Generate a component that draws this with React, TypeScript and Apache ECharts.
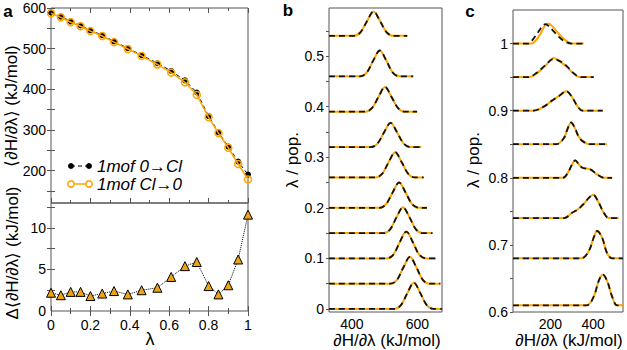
import React, { useEffect, useRef } from 'react';
import * as echarts from 'echarts';

// ---------- Panel a data ----------
const lambdas = [0, 0.05, 0.1, 0.15, 0.2, 0.26, 0.32, 0.39, 0.46, 0.54, 0.61, 0.68, 0.74, 0.8, 0.85, 0.9, 0.95, 1];
const dHdlForward = [589, 579, 567, 557, 545, 533, 518, 501, 484, 464, 445, 422, 392, 334, 294, 259, 222, 190];
const dHdlBackward = [587, 577, 565, 555, 543, 531, 516, 499, 482, 461, 441, 417, 386, 331, 292, 256, 216, 178];
const dHdlDiff = [2.2, 1.9, 2.3, 2.3, 1.8, 2.1, 2.4, 2.0, 2.5, 2.8, 4.1, 5.4, 5.9, 3.0, 2.0, 3.1, 6.2, 11.6];

const aTopYLabels = [200, 300, 400, 500, 600];
const aTopYTicks = [150, 200, 250, 300, 350, 400, 450, 500, 550, 600];
const aBotYLabels = [0, 5, 10];
const aBotYTicks = [2.5, 5, 7.5, 10, 12.5];

// ---------- Panel b data: [x, height above baseline λ] ----------
const bLambdas = [0, 0.05, 0.1, 0.15, 0.2, 0.26, 0.32, 0.39, 0.46, 0.54];
const bCurves: number[][][] = [
  [[330, 0], [529, 0], [549, 0.007], [569, 0.031], [589, 0.052], [609, 0.031], [629, 0.007], [649, 0], [675, 0]],
  [[330, 0], [517, 0], [537, 0.007], [557, 0.032], [577, 0.053], [597, 0.032], [617, 0.007], [637, 0], [670, 0]],
  [[330, 0], [506, 0], [526, 0.007], [546, 0.032], [566, 0.053], [586, 0.032], [606, 0.007], [626, 0], [655, 0]],
  [[330, 0], [496, 0], [516, 0.007], [536, 0.031], [556, 0.051], [576, 0.031], [596, 0.007], [616, 0], [646, 0]],
  [[330, 0], [484, 0], [504, 0.007], [524, 0.03], [544, 0.05], [564, 0.03], [584, 0.007], [604, 0], [629, 0]],
  [[330, 0], [472, 0], [492, 0.007], [512, 0.03], [532, 0.05], [552, 0.03], [572, 0.007], [592, 0], [619, 0]],
  [[330, 0], [458, 0], [478, 0.007], [498, 0.029], [518, 0.048], [538, 0.029], [558, 0.007], [578, 0], [612, 0]],
  [[330, 0], [441, 0], [461, 0.007], [481, 0.029], [501, 0.049], [521, 0.029], [541, 0.007], [561, 0], [599, 0]],
  [[330, 0], [425, 0], [445, 0.007], [465, 0.031], [485, 0.051], [505, 0.031], [525, 0.007], [545, 0], [587, 0]],
  [[330, 0], [406, 0], [426, 0.007], [446, 0.029], [466, 0.048], [486, 0.029], [506, 0.007], [526, 0], [569, 0]],
];
const bYLabels = [0, 0.1, 0.2, 0.3, 0.4, 0.5];
const bYTicks = [0, 0.05, 0.1, 0.15, 0.2, 0.25, 0.3, 0.35, 0.4, 0.45, 0.5, 0.55];
const bXLabels = [400, 600];

// ---------- Panel c data ----------
const cLambdas = [1, 0.95, 0.9, 0.85, 0.8, 0.74, 0.68, 0.61];
const cCurvesFwd: number[][][] = [
  [[25, 0], [98, 0], [120, 0.007], [145, 0.018], [165, 0.027], [178, 0.029], [195, 0.025], [210, 0.02], [240, 0.01], [268, 0.003], [300, 0], [356, 0]],
  [[25, 0], [95, 0], [138, 0.007], [177, 0.018], [214, 0.027], [247, 0.0235], [278, 0.016], [309, 0.006], [340, 0], [403, 0]],
  [[25, 0], [120, 0], [169, 0.006], [208, 0.015], [239, 0.0215], [275, 0.029], [302, 0.02], [325, 0.0075], [350, 0], [445, 0]],
  [[25, 0], [228, 0], [262, 0.0085], [281, 0.0234], [297, 0.0324], [315, 0.024], [333, 0.011], [356, 0.0035], [387, 0], [465, 0]],
  [[25, 0], [258, 0], [286, 0.01], [303, 0.021], [317, 0.026], [333, 0.02], [350, 0.015], [387, 0.0125], [419, 0.005], [450, 0], [489, 0]],
  [[25, 0], [265, 0], [302, 0.008], [325, 0.012], [356, 0.021], [380, 0.03], [400, 0.0348], [426, 0.023], [450, 0.008], [473, 0], [520, 0]],
  [[25, 0], [345, 0], [380, 0.011], [403, 0.031], [419, 0.0407], [442, 0.031], [465, 0.008], [489, 0], [540, 0]],
  [[25, 0], [370, 0], [403, 0.013], [426, 0.036], [445, 0.0458], [466, 0.036], [489, 0.013], [512, 0], [540, 0]],
];
const cCurvesBwd: number[][][] = [
  [[25, 0], [112, 0], [130, 0.004], [153, 0.014], [172, 0.026], [190, 0.03], [208, 0.026], [225, 0.02], [255, 0.009], [280, 0.003], [305, 0], [356, 0]],
  [[25, 0], [100, 0], [138, 0.006], [177, 0.017], [216, 0.0285], [245, 0.023], [278, 0.015], [309, 0.005], [340, 0], [403, 0]],
  [[25, 0], [120, 0], [169, 0.006], [208, 0.015], [239, 0.0215], [275, 0.029], [302, 0.02], [325, 0.0075], [350, 0], [445, 0]],
  [[25, 0], [228, 0], [262, 0.0085], [281, 0.0234], [297, 0.0324], [315, 0.024], [333, 0.011], [356, 0.0035], [387, 0], [465, 0]],
  [[25, 0], [258, 0], [286, 0.01], [303, 0.021], [317, 0.026], [333, 0.02], [350, 0.015], [387, 0.0125], [419, 0.005], [450, 0], [489, 0]],
  [[25, 0], [265, 0], [302, 0.008], [325, 0.012], [356, 0.021], [380, 0.03], [400, 0.0348], [426, 0.023], [450, 0.008], [473, 0], [520, 0]],
  [[25, 0], [345, 0], [380, 0.011], [403, 0.031], [419, 0.0407], [442, 0.031], [465, 0.008], [489, 0], [540, 0]],
  [[25, 0], [370, 0], [403, 0.013], [426, 0.036], [445, 0.0458], [466, 0.036], [489, 0.013], [512, 0], [540, 0]],
];
const cYLabels = [0.6, 0.7, 0.8, 0.9, 1];
const cYTicks = [0.6, 0.65, 0.7, 0.75, 0.8, 0.85, 0.9, 0.95, 1];
const cXLabels = [200, 400];

const FONT = '"Liberation Sans", Arial, Helvetica, sans-serif';
const ORANGE = '#FFA500';
const TRI = '#EDA313';
const FRAME = '#555';

const tickLine = { color: FRAME, width: 1 };

function lambdaXAxis(grid: number, position: 'top' | 'bottom', labels: boolean) {
  return {
    type: 'value', gridIndex: grid, position, min: 0, max: 1, interval: 0.2,
    axisLine: { show: false }, splitLine: { show: false },
    axisTick: { show: true, inside: true, length: 5, lineStyle: tickLine },
    minorTick: { show: true, splitNumber: 2, length: 3, lineStyle: tickLine },
    axisLabel: { show: labels, color: '#000', fontSize: 14, fontFamily: FONT, margin: 7 },
  };
}

function customYAxis(grid: number, position: 'left' | 'right', min: number, max: number, labels: number[] | null, ticks: number[], inside: boolean, len: number) {
  return {
    type: 'value', gridIndex: grid, position, min, max,
    axisLine: { show: false }, splitLine: { show: false },
    axisTick: { show: ticks.length > 0, inside, length: len, customValues: ticks, lineStyle: tickLine },
    axisLabel: labels
      ? { show: true, customValues: labels, color: '#000', fontSize: 14, fontFamily: FONT, margin: 5 }
      : { show: false },
  };
}

function customXAxis(grid: number, min: number, max: number, labels: number[]) {
  return {
    type: 'value', gridIndex: grid, position: 'bottom', min, max,
    axisLine: { show: false }, splitLine: { show: false },
    axisTick: { show: false },
    axisLabel: { show: true, customValues: labels, color: '#000', fontSize: 14, fontFamily: FONT, margin: 5 },
  };
}

function txt(x: number, y: number, text: string, size: number, opts: any = {}) {
  return {
    type: 'text', x, y, rotation: opts.rotation || 0, silent: true,
    style: {
      text, fill: '#000', fontSize: size, fontFamily: FONT,
      fontWeight: opts.bold ? 'bold' : 'normal', fontStyle: opts.italic ? 'italic' : 'normal',
      align: opts.align || 'center', verticalAlign: 'middle',
      textAlign: opts.align || 'center', textVerticalAlign: 'middle',
    },
  };
}

export default function App() {
  const ref = useRef<HTMLDivElement>(null);
  useEffect(() => {
    if (!ref.current) return;
    const chart = echarts.init(ref.current, null, { renderer: 'svg' });

    const series: any[] = [];
    // Panel a top
    series.push({
      type: 'line', xAxisIndex: 0, yAxisIndex: 0, name: '1mof 0→Cl',
      data: lambdas.map((l, i) => [l, dHdlForward[i]]),
      symbol: 'circle', symbolSize: 6,
      itemStyle: { color: '#000' },
      lineStyle: { color: '#000', width: 1, type: [4, 3] },
      z: 3,
    });
    series.push({
      type: 'line', xAxisIndex: 0, yAxisIndex: 0, name: '1mof Cl→0',
      data: lambdas.map((l, i) => [l, dHdlBackward[i]]),
      symbol: 'circle', symbolSize: 7,
      itemStyle: { color: 'rgba(255,255,255,0)', borderColor: ORANGE, borderWidth: 1.5 },
      lineStyle: { color: ORANGE, width: 1.5 },
      z: 4,
    });
    // Panel a bottom
    series.push({
      type: 'line', xAxisIndex: 2, yAxisIndex: 2,
      data: lambdas.map((l, i) => [l, dHdlDiff[i]]),
      symbol: 'triangle', symbolSize: 9,
      itemStyle: { color: TRI, borderColor: '#000', borderWidth: 1 },
      lineStyle: { color: '#000', width: 1, type: 'dotted' },
    });
    // Panel b
    bLambdas.forEach((lam, i) => {
      const data = bCurves[i].map((p) => [p[0], lam + p[1]]);
      series.push({
        type: 'line', xAxisIndex: 4, yAxisIndex: 4, data, symbol: 'none', smooth: 0.35,
        lineStyle: { color: ORANGE, width: 2 }, z: 2,
      });
      series.push({
        type: 'line', xAxisIndex: 4, yAxisIndex: 4, data, symbol: 'none', smooth: 0.35,
        lineStyle: { color: '#111', width: 1.8, type: [6, 4] }, z: 3,
      });
    });
    // Panel c
    cLambdas.forEach((lam, i) => {
      series.push({
        type: 'line', xAxisIndex: 5, yAxisIndex: 6, symbol: 'none', smooth: 0.35,
        data: cCurvesBwd[i].map((p) => [p[0], lam + p[1]]),
        lineStyle: { color: ORANGE, width: 2 }, z: 2,
      });
      series.push({
        type: 'line', xAxisIndex: 5, yAxisIndex: 6, symbol: 'none', smooth: 0.35,
        data: cCurvesFwd[i].map((p) => [p[0], lam + p[1]]),
        lineStyle: { color: '#111', width: 1.8, type: [6, 4] }, z: 3,
      });
    });

    const gridBase = { show: true, borderColor: FRAME, borderWidth: 1, backgroundColor: 'transparent', containLabel: false, outerBoundsMode: 'none' };

    const option: any = {
      animation: false,
      textStyle: { fontFamily: FONT },
      grid: [
        { ...gridBase, left: 51, top: 8, width: 197, height: 195 },
        { ...gridBase, left: 51, top: 203, width: 197, height: 108 },
        { ...gridBase, left: 329, top: 8, width: 113, height: 304 },
        { ...gridBase, left: 513, top: 10, width: 110, height: 302 },
      ],
      xAxis: [
        lambdaXAxis(0, 'bottom', false),
        lambdaXAxis(0, 'top', false),
        lambdaXAxis(1, 'bottom', true),
        lambdaXAxis(1, 'top', false),
        customXAxis(2, 330, 675, bXLabels),
        customXAxis(3, 25, 540, cXLabels),
      ],
      yAxis: [
        customYAxis(0, 'left', 120, 600, aTopYLabels, aTopYTicks, true, 4),
        customYAxis(0, 'right', 120, 600, null, aTopYTicks, true, 4),
        customYAxis(1, 'left', 0, 13, aBotYLabels, aBotYTicks, true, 4),
        customYAxis(1, 'right', 0, 13, null, aBotYTicks, true, 4),
        customYAxis(2, 'left', -0.006, 0.595, bYLabels, bYTicks, false, 3),
        customYAxis(2, 'right', -0.006, 0.595, null, [], false, 0),
        customYAxis(3, 'left', 0.6, 1.05, cYLabels, cYTicks, false, 3),
      ],
      series,
      graphic: [
        txt(8, 11, 'a', 17, { bold: true }),
        txt(288, 10, 'b', 17, { bold: true }),
        txt(470, 11, 'c', 17, { bold: true }),
        txt(11, 106, '⟨∂H/∂λ⟩ (kJ/mol)', 17, { rotation: Math.PI / 2 }),
        txt(12, 253, 'Δ⟨∂H/∂λ⟩ (kJ/mol)', 17, { rotation: Math.PI / 2 }),
        txt(150, 339, 'λ', 18),
        txt(292, 160, 'λ / pop.', 17, { rotation: Math.PI / 2 }),
        txt(387, 340, '∂H/∂λ (kJ/mol)', 17),
        txt(473, 160, 'λ / pop.', 17, { rotation: Math.PI / 2 }),
        txt(569, 340, '∂H/∂λ (kJ/mol)', 17),
        // legend
        { type: 'line', silent: true, shape: { x1: 71, y1: 166, x2: 89, y2: 166 }, style: { stroke: '#000', lineWidth: 1, lineDash: [4, 3] } },
        { type: 'circle', silent: true, shape: { cx: 71, cy: 166, r: 3 }, style: { fill: '#000' } },
        { type: 'circle', silent: true, shape: { cx: 89, cy: 166, r: 3 }, style: { fill: '#000' } },
        txt(97, 166, '1mof 0→Cl', 17, { italic: true, align: 'left' }),
        { type: 'line', silent: true, shape: { x1: 71, y1: 184, x2: 89, y2: 184 }, style: { stroke: ORANGE, lineWidth: 1.5 } },
        { type: 'circle', silent: true, shape: { cx: 71, cy: 184, r: 3.2 }, style: { fill: '#fff', stroke: ORANGE, lineWidth: 1.5 } },
        { type: 'circle', silent: true, shape: { cx: 89, cy: 184, r: 3.2 }, style: { fill: '#fff', stroke: ORANGE, lineWidth: 1.5 } },
        txt(97, 184, '1mof Cl→0', 17, { italic: true, align: 'left' }),
      ],
    };
    chart.setOption(option);
    return () => chart.dispose();
  }, []);
  return <div ref={ref} style={{ position: 'absolute', left: 0, top: 0, width: 627, height: 350, background: '#fff' }} />;
}
